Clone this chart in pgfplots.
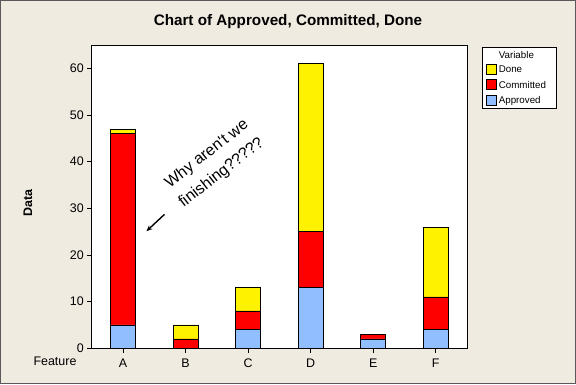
\documentclass[border=0pt]{standalone}
\usepackage{pgfplots}
\pgfplotsset{compat=1.18}
\usetikzlibrary{arrows.meta}
\usepackage{fontspec}
\setmainfont{Liberation Sans}
\definecolor{bg}{RGB}{240,235,225}
\definecolor{appr}{RGB}{145,190,255}
\begin{document}
\begin{tikzpicture}[x=1bp,y=1bp]
\fill[bg] (0,0) rectangle (576,384);
\draw[black!65, line width=1bp] (0.5,0.5) rectangle (575.5,383.5);
\begin{axis}[
  at={(91.7bp,35.7bp)}, anchor=south west,
  scale only axis, width=375.3bp, height=302.3bp,
  clip=false,
  ybar stacked, bar width=25bp,
  xmin=-0.5, xmax=5.5, ymin=0, ymax=64.8,
  xtick={0,1,2,3,4,5}, xticklabels={A,B,C,D,E,F},
  ytick={0,10,20,30,40,50,60},
  xtick pos=bottom, ytick pos=left,
  tick align=outside, major tick length=4.5bp,
  tick style={black, line width=0.8bp},
  axis line style={black, line width=1bp},
  axis background/.style={fill=white},
  ticklabel style={font=\fontsize{12.5}{14}\selectfont},
  xticklabel style={yshift=-2.5bp},
  /pgf/number format/assume math mode=true,
  title={Chart of Approved, Committed, Done},
  title style={font=\bfseries\fontsize{15.3}{18}\selectfont, at={(axis description cs:0.523,1.06)}, anchor=center},
  ylabel={Data},
  ylabel style={font=\bfseries\fontsize{12.5}{14}\selectfont, at={(axis description cs:-0.17,0.48)}, anchor=center},
  legend style={at={(1.039,0.9977)}, anchor=north west, draw=black, line width=0.8bp, fill=white,
    font=\fontsize{9.8}{11}\selectfont, inner xsep=4bp, inner ysep=2bp,
    /tikz/every even column/.append style={column sep=6bp}, cells={anchor=west}, row sep=2.6bp},
  reverse legend,
  legend image code/.code={\draw[#1, line width=0.8bp] (0bp,-4.5bp) rectangle (10bp,5.5bp);},
]
\addplot[fill=appr, draw=black, line width=0.8bp] coordinates {(0,5) (1,0) (2,4) (3,13) (4,2) (5,4)};
\addlegendentry{\makebox[52bp][l]{Approved}}
\addplot[fill=red, draw=black, line width=0.8bp] coordinates {(0,41) (1,2) (2,4) (3,12) (4,1) (5,7)};
\addlegendentry{\makebox[52bp][l]{Committed}}
\addplot[fill=yellow, draw=black, line width=0.8bp] coordinates {(0,1) (1,3) (2,5) (3,36) (4,0) (5,15)};
\addlegendentry{\makebox[52bp][l]{Done}}
\addlegendimage{empty legend}
\addlegendentry{Variable}
\node[rotate=38, align=center, font=\fontsize{16}{24}\selectfont] at (axis cs:1.46,39.6) {Why aren\textquotesingle t we\\finishing?????};
\draw[-{Stealth[length=6bp,width=5bp]}, line width=1.4bp] (axis cs:0.663,28.7) -- (axis cs:0.375,25.1);
\node[anchor=base, font=\fontsize{12.5}{14}\selectfont, yshift=-17.5bp] at (axis description cs:-0.0978,0) {Feature};
\end{axis}
\end{tikzpicture}
\end{document}
